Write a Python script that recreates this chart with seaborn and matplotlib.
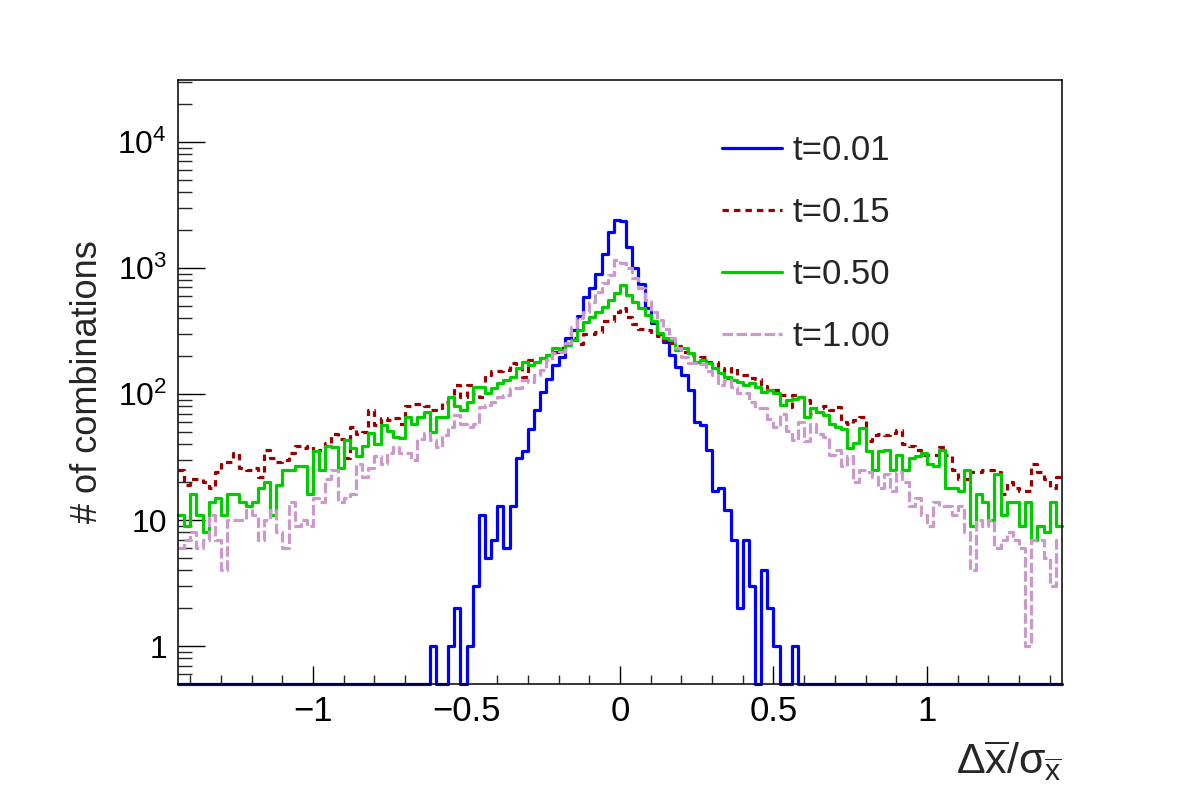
import numpy as np
import matplotlib
matplotlib.use("Agg")
import matplotlib.pyplot as plt
from matplotlib.ticker import FixedLocator, FixedFormatter, LogLocator, NullFormatter, MultipleLocator
import seaborn as sns

# binning of the histograms: 144 bins of width 0.02
x_lo, x_hi, n_bins = -1.44, 1.44, 144

labels = ["t=0.01", "t=0.15", "t=0.50", "t=1.00"]

counts_t001 = [
    0, 0, 0, 0, 0, 0, 0, 0, 0, 0, 0, 0,
    0, 0, 0, 0, 0, 0, 0, 0, 0, 0, 0, 0,
    0, 0, 0, 0, 0, 0, 0, 0, 0, 0, 0, 0,
    0, 0, 0, 0, 0, 1, 0, 0, 1, 2, 0, 1,
    3, 11, 5, 7, 13, 6, 13, 31, 35, 53, 75, 104,
    131, 170, 198, 277, 322, 415, 593, 690, 900, 1300, 1944, 2400,
    2350, 1480, 1000, 750, 480, 364, 300, 260, 204, 165, 141, 108,
    60, 57, 36, 17, 18, 12, 7, 2, 7, 3, 0, 4,
    2, 1, 0, 0, 1, 0, 0, 0, 0, 0, 0, 0,
    0, 0, 0, 0, 0, 0, 0, 0, 0, 0, 0, 0,
    0, 0, 0, 0, 0, 0, 0, 0, 0, 0, 0, 0,
    0, 0, 0, 0, 0, 0, 0, 0, 0, 0, 0, 0,
]

counts_t015 = [
    25, 19, 21, 21, 20, 18, 24, 29, 29, 34, 26, 25,
    26, 22, 36, 31, 29, 30, 34, 39, 37, 39, 34, 36,
    41, 48, 44, 31, 55, 48, 50, 75, 57, 64, 62, 64,
    58, 80, 83, 83, 80, 75, 78, 87, 80, 118, 95, 118,
    100, 95, 142, 151, 151, 155, 175, 160, 137, 186, 186, 192,
    204, 215, 230, 250, 280, 250, 300, 300, 310, 377, 380, 450,
    480, 411, 362, 330, 320, 300, 290, 270, 255, 240, 217, 204,
    192, 198, 181, 181, 160, 133, 160, 142, 142, 133, 131, 116,
    108, 108, 98, 79, 98, 95, 89, 70, 77, 80, 75, 79,
    60, 58, 62, 66, 42, 47, 48, 47, 49, 52, 40, 39,
    36, 33, 33, 33, 38, 33, 25, 21, 21, 24, 24, 25,
    25, 24, 16, 20, 18, 17, 17, 28, 24, 21, 18, 22,
]

counts_t050 = [
    11, 9, 16, 11, 8, 14, 15, 11, 16, 16, 14, 13,
    14, 18, 20, 11, 19, 25, 25, 27, 27, 16, 35, 25,
    39, 38, 26, 43, 37, 32, 39, 49, 40, 57, 51, 46,
    45, 66, 58, 66, 72, 50, 66, 66, 95, 80, 75, 87,
    114, 114, 101, 111, 122, 129, 137, 160, 181, 170, 181, 192,
    204, 231, 224, 245, 270, 322, 375, 411, 450, 493, 557, 629,
    733, 610, 541, 480, 420, 380, 303, 280, 270, 224, 231, 211,
    181, 186, 175, 160, 146, 137, 129, 125, 118, 122, 114, 104,
    108, 101, 82, 90, 92, 95, 66, 77, 72, 68, 58, 55,
    53, 37, 41, 54, 35, 25, 35, 36, 25, 33, 25, 31,
    32, 34, 28, 27, 36, 18, 18, 17, 25, 9, 16, 14,
    10, 23, 11, 14, 14, 9, 14, 7, 9, 8, 14, 9,
]

counts_t100 = [
    6, 7, 8, 6, 7, 11, 7, 4, 10, 10, 10, 12,
    11, 7, 10, 12, 8, 6, 14, 9, 10, 9, 15, 14,
    21, 25, 14, 15, 16, 28, 22, 26, 32, 28, 34, 38,
    34, 34, 30, 44, 49, 43, 38, 47, 55, 68, 58, 55,
    58, 79, 82, 87, 95, 98, 111, 111, 129, 125, 142, 155,
    186, 211, 217, 252, 340, 399, 450, 541, 649, 760, 880, 1150,
    1100, 994, 830, 690, 560, 450, 386, 330, 280, 231, 198, 175,
    175, 173, 153, 142, 118, 129, 114, 101, 101, 86, 77, 77,
    63, 55, 69, 51, 43, 60, 42, 58, 48, 46, 33, 36,
    27, 32, 20, 25, 24, 22, 18, 23, 17, 24, 20, 13,
    15, 11, 9, 14, 13, 13, 11, 13, 8, 4, 10, 9,
    10, 6, 7, 8, 7, 6, 1, 7, 7, 5, 3, 7,
]

x_major = [-1, -0.5, 0, 0.5, 1]
x_tick_labels = ["\u22121", "\u22120.5", "0", "0.5", "1"]
y_major = [1, 10, 100, 1000, 10000]
y_tick_labels = ["1", "10", "$10^{2}$", "$10^{3}$", "$10^{4}$"]

colors = ["#0000ff", "#990000", "#00cc00", "#cc99cc"]
styles = ["-", (0, (2.0, 1.6)), "-", (0, (3.3, 1.1))]

y_min, y_max = 0.5, 3.1e4


def main():
    sns.set_theme(style="ticks")
    plt.rcParams["font.family"] = ["Liberation Sans", "DejaVu Sans"]
    plt.rcParams["mathtext.fontset"] = "custom"
    plt.rcParams["mathtext.rm"] = "Liberation Sans"
    # upright greek letters, like the ROOT label
    plt.rcParams["mathtext.it"] = "Liberation Sans"
    plt.rcParams["mathtext.bf"] = "Liberation Sans:bold"
    plt.rcParams["axes.linewidth"] = 1.1
    plt.rcParams["axes.edgecolor"] = "black"

    fig = plt.figure(figsize=(11.82, 8.05), dpi=100)
    fig.patch.set_facecolor("white")
    ax = fig.add_axes([0.1506, 0.1503, 0.7479, 0.7503])

    edges = np.linspace(x_lo, x_hi, n_bins + 1)
    all_counts = [counts_t001, counts_t015, counts_t050, counts_t100]

    for label, counts, color, ls in zip(labels, all_counts, colors, styles):
        # empty bins sit on the lower frame, as in ROOT
        y = np.clip(np.append(counts, counts[-1]).astype(float), y_min, None)
        sns.lineplot(x=edges, y=y, drawstyle="steps-post", color=color,
                     linestyle=ls, lw=2.3, ax=ax, label=label,
                     sort=False, estimator=None, clip_on=False)

    ax.set_yscale("log")
    ax.set_xlim(x_lo, x_hi)
    ax.set_ylim(y_min, y_max)

    ax.xaxis.set_major_locator(FixedLocator(x_major))
    ax.xaxis.set_major_formatter(FixedFormatter(x_tick_labels))
    ax.xaxis.set_minor_locator(MultipleLocator(0.1))
    ax.yaxis.set_major_locator(FixedLocator(y_major))
    ax.yaxis.set_major_formatter(FixedFormatter(y_tick_labels))
    ax.yaxis.set_minor_locator(LogLocator(base=10, subs=np.arange(2, 10)))
    ax.yaxis.set_minor_formatter(NullFormatter())

    ax.tick_params(axis="x", which="major", direction="in", length=13, width=1,
                   labelsize=25, pad=8, top=False, colors="black")
    ax.tick_params(axis="x", which="minor", direction="in", length=6.5, width=1, top=False)
    ax.tick_params(axis="y", which="major", direction="in", length=19.5, width=1,
                   labelsize=23, pad=8, right=False, colors="black")
    ax.tick_params(axis="y", which="minor", direction="in", length=10, width=1, right=False)

    for side in ["top", "right", "bottom", "left"]:
        ax.spines[side].set_visible(True)
        ax.spines[side].set_color("black")

    ax.set_ylabel("# of combinations", fontsize=26)
    ax.yaxis.set_label_coords(-0.083, 0.5)
    ax.set_xlabel(r"$\Delta\overline{\mathrm{x}}/\sigma_{\overline{\mathrm{x}}}$", fontsize=31, ha="right")
    ax.xaxis.set_label_coords(1.0, -0.09)

    ax.legend(loc="upper left", bbox_to_anchor=(0.615, 0.91), frameon=False,
              fontsize=25, handlelength=1.73, handletextpad=0.32,
              labelspacing=0.83, borderaxespad=0, borderpad=0)

    fig.savefig("out.png", dpi=100, facecolor="white")


if __name__ == "__main__":
    main()
